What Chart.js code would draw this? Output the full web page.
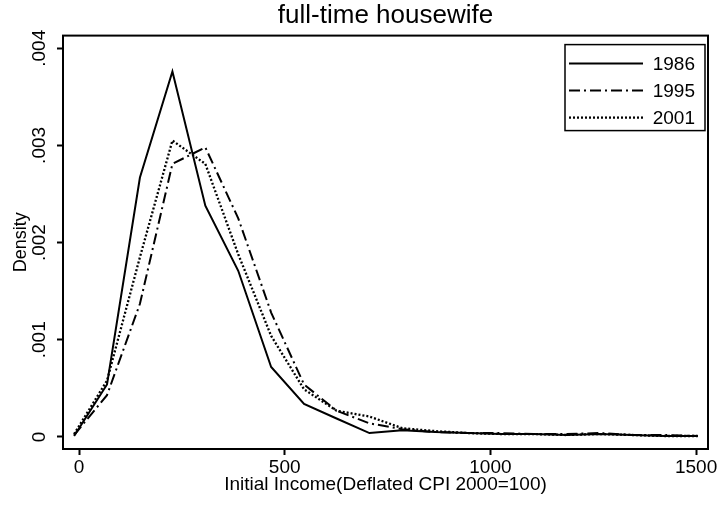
<!DOCTYPE html>
<html>
<head>
<meta charset="utf-8">
<script src="https://cdn.jsdelivr.net/npm/chart.js@4/dist/chart.umd.min.js"></script>
<style>
  html, body { margin: 0; padding: 0; background: #ffffff; }
  #wrap { width: 721px; height: 507px; }
</style>
</head>
<body>
<div id="wrap"><canvas id="c" width="721" height="507"></canvas></div>
<script>
// Kernel density estimates of initial income, evaluated on a common grid
const incomeGrid = [-12, 68, 148, 227, 307, 387, 467, 547, 626, 706, 786, 866, 946, 1025, 1105, 1185, 1265, 1345, 1424, 1504];

const density1986 = [0.00001, 0.00054, 0.00267, 0.00376, 0.00238, 0.00171, 0.00072, 0.00034, 0.00019, 0.00004, 0.00007, 0.00005, 0.00004, 0.00003, 0.00003, 0.00002, 0.00003, 0.00002, 0.00001, 0.00001];
const density1995 = [0.00002, 0.00043, 0.00137, 0.00281, 0.00298, 0.00225, 0.00128, 0.00054, 0.00027, 0.00014, 0.00008, 0.00005, 0.00004, 0.00004, 0.00003, 0.00003, 0.00004, 0.00002, 0.00002, 0.00001];
const density2001 = [0.00003, 0.00058, 0.00185, 0.00305, 0.00281, 0.00188, 0.00104, 0.00049, 0.00027, 0.00021, 0.00009, 0.00006, 0.00004, 0.00003, 0.00003, 0.00002, 0.00003, 0.00002, 0.00001, 0.00001];

const seriesNames = ['1986', '1995', '2001'];
const xTickValues = [0, 500, 1000, 1500];
const yTickValues = [0, 0.001, 0.002, 0.003, 0.004];
const yTickLabels = ['0', '.001', '.002', '.003', '.004'];

const FONT = '"Liberation Sans", Arial, Helvetica, sans-serif';

const toPoints = (ys) => incomeGrid.map((x, i) => ({ x: x, y: ys[i] }));

const lineStyles = [
  { width: 2, dash: [] },
  { width: 2, dash: [11, 4, 2, 4] },
  { width: 2.3, dash: [2, 2] }
];

const datasets = [density1986, density1995, density2001].map((ys, i) => ({
  label: seriesNames[i],
  data: toPoints(ys),
  borderColor: '#000000',
  borderWidth: lineStyles[i].width,
  borderDash: lineStyles[i].dash,
  pointRadius: 0,
  fill: false,
  tension: 0
}));

// Frame around the plot region, rotated y tick labels and the boxed legend
const decorations = {
  id: 'decorations',
  afterDraw(chart) {
    const ctx = chart.ctx;
    const a = chart.chartArea;
    ctx.save();
    ctx.strokeStyle = '#000';
    ctx.lineWidth = 2;
    ctx.setLineDash([]);
    ctx.strokeRect(a.left, a.top, a.right - a.left, a.bottom - a.top);

    // y tick labels, reading upwards
    const ys = chart.scales.y;
    ctx.fillStyle = '#000';
    ctx.font = '19px ' + FONT;
    ctx.textAlign = 'center';
    ctx.textBaseline = 'middle';
    ys.ticks.forEach((t, i) => {
      const py = ys.getPixelForValue(t.value);
      ctx.save();
      ctx.translate(40, py);
      ctx.rotate(-Math.PI / 2);
      ctx.fillText(yTickLabels[i], 0, 0);
      ctx.restore();
    });

    // legend
    const bw = 140, bh = 86;
    const bx = a.right - bw - 3, by = a.top + 9;
    ctx.lineWidth = 1.5;
    ctx.strokeRect(bx, by, bw, bh);
    chart.data.datasets.forEach((ds, i) => {
      const ry = by + 19 + i * 27;
      ctx.beginPath();
      ctx.lineWidth = ds.borderWidth;
      ctx.setLineDash(ds.borderDash);
      ctx.moveTo(bx + 4, ry);
      ctx.lineTo(bx + 78, ry);
      ctx.stroke();
      ctx.setLineDash([]);
      ctx.textAlign = 'right';
      ctx.font = '19px ' + FONT;
      ctx.fillText(ds.label, bx + bw - 10, ry + 1);
    });
    ctx.restore();
  }
};

new Chart(document.getElementById('c'), {
  type: 'line',
  data: { datasets: datasets },
  options: {
    responsive: false,
    animation: false,
    layout: { padding: { left: 0, right: 13, top: 0, bottom: 0 } },
    plugins: {
      legend: { display: false },
      tooltip: { enabled: false },
      title: {
        display: true,
        fullSize: false,
        text: 'full-time housewife',
        color: '#000',
        font: { family: FONT, size: 26, weight: 'normal', lineHeight: 1.1 },
        padding: { top: 2, bottom: 5 }
      }
    },
    scales: {
      x: {
        type: 'linear',
        min: -39,
        max: 1529,
        afterBuildTicks: (s) => { s.ticks = xTickValues.map(v => ({ value: v })); },
        afterFit: (s) => { s.height = 58; },
        ticks: {
          color: '#000',
          font: { family: FONT, size: 19, lineHeight: 1 },
          padding: 3,
          maxRotation: 0,
          callback: (v) => String(v)
        },
        grid: { drawOnChartArea: false, drawTicks: true, tickLength: 6, tickColor: '#000', tickWidth: 2 },
        border: { display: false },
        title: {
          display: true,
          text: 'Initial Income(Deflated CPI 2000=100)',
          color: '#000',
          font: { family: FONT, size: 19, lineHeight: 1 },
          padding: { top: 0, bottom: 13 }
        }
      },
      y: {
        type: 'linear',
        min: -0.000124,
        max: 0.00413,
        afterBuildTicks: (s) => { s.ticks = yTickValues.map(v => ({ value: v })); },
        afterFit: (s) => { s.width = 63; },
        ticks: { display: false },
        grid: { drawOnChartArea: false, drawTicks: true, tickLength: 6, tickColor: '#000', tickWidth: 2 },
        border: { display: false },
        title: {
          display: true,
          text: 'Density',
          color: '#000',
          font: { family: FONT, size: 18, lineHeight: 1 },
          padding: { top: 12, bottom: 0 }
        }
      }
    }
  },
  plugins: [decorations]
});
</script>
</body>
</html>
